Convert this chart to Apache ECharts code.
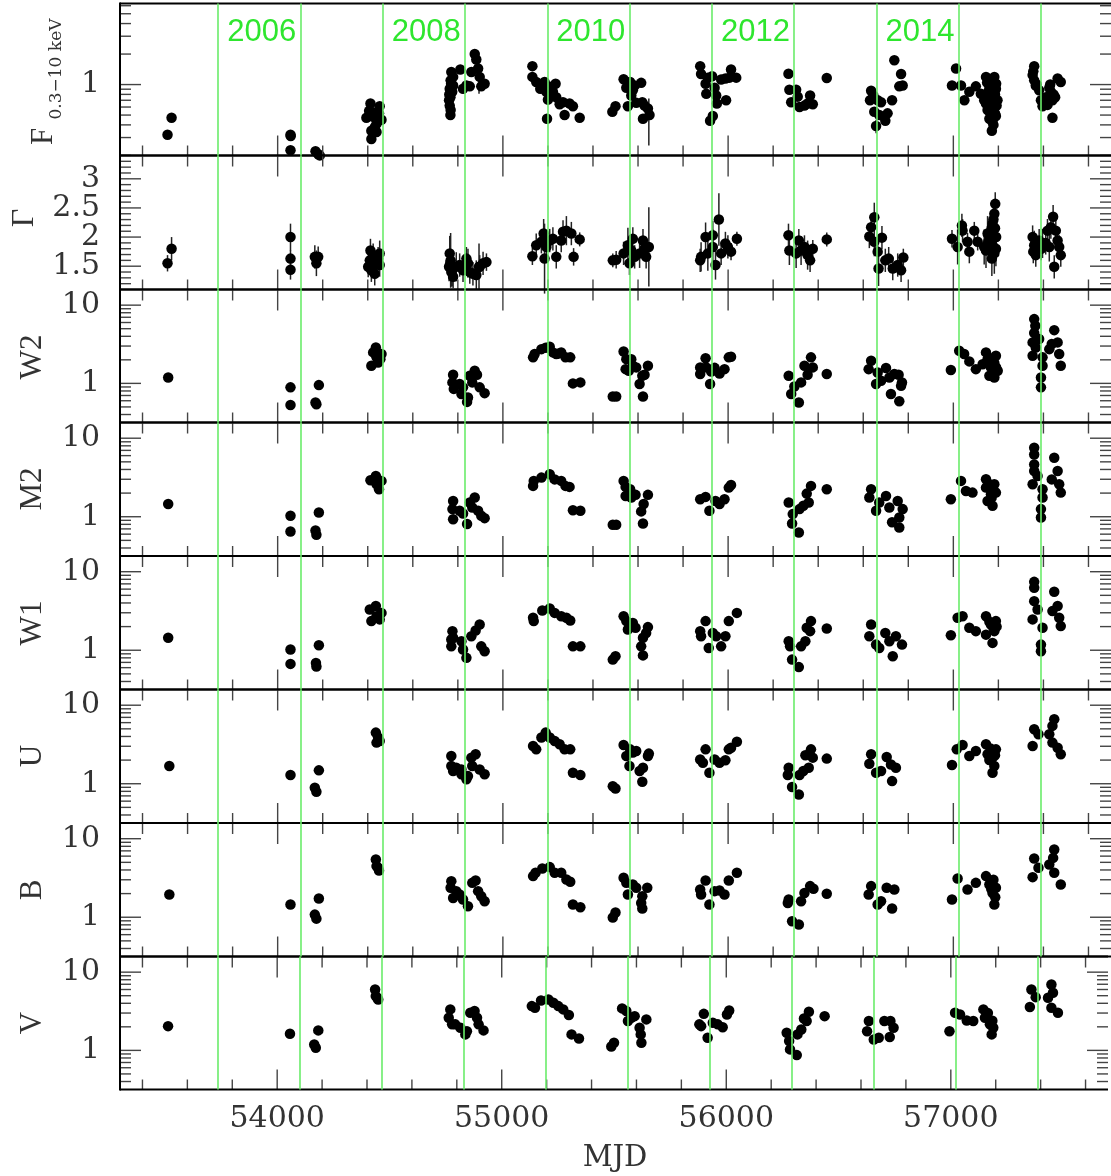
<!DOCTYPE html>
<html>
<head>
<meta charset="utf-8">
<script src="https://cdn.jsdelivr.net/npm/echarts@6/dist/echarts.min.js"></script>
<style>
  html, body { margin: 0; background: #fff; }
  #chart { width: 1111px; height: 1176px; }
</style>
</head>
<body>
<div id="chart"></div>
<script>
// 8단 광도곡선 — X선 플럭스, 광자지수, UVOT 6밴드 (MJD 축 공유)
const xMin = 53300, xMax = 57700;
const xMajorTicks = [54000, 55000, 56000, 57000];
const xMinorTicks = [53400, 53600, 53800, 54200, 54400, 54600, 54800, 55200, 55400, 55600, 55800,
  56200, 56400, 56600, 56800, 57200, 57400, 57600];

const yearStarts = [53736, 54101, 54466, 54832, 55197, 55562, 55927, 56293, 56658, 57023, 57388];
const yearTexts = ["2006", "2008", "2010", "2012", "2014"];
const yearTextMJD = [53929, 54660, 55390, 56122, 56852];

const logMajorF = [1];
const logMinorF = [0.2, 0.3, 0.4, 0.5, 0.6, 0.7, 0.8, 0.9, 2, 3, 4, 5, 6];
const logMajorUV = [1, 10];
const logMinorUV = [0.4, 0.5, 0.6, 0.7, 0.8, 0.9, 2, 3, 4, 5, 6, 7, 8, 9];
const gammaMajor = [1.5, 2, 2.5, 3];
const gammaMinor = [1.2, 1.3, 1.4, 1.6, 1.7, 1.8, 1.9, 2.1, 2.2, 2.3, 2.4, 2.6, 2.7, 2.8, 2.9, 3.1, 3.2, 3.3];

// F(0.3-10 keV) [MJD, flux]
const fluxX = [
  [53511,0.32],[53529,0.47],[54057,0.32],[54058,0.31],[54057,0.225],[54168,0.22],[54180,0.205],[54187,0.20],
  [54412,0.65],[54453,0.61],[54394,0.47],[54424,0.48],[54446,0.44],[54461,0.45],[54431,0.38],[54416,0.35],
  [54439,0.34],[54416,0.29],[54406,0.55],[54427,0.53],[54450,0.52],[54439,0.41],
  [54771,1.33],[54768,1.10],[54764,0.91],[54767,0.75],[54764,0.62],[54768,0.56],[54767,0.50],[54779,1.19],
  [54779,0.98],[54761,0.70],[54775,0.85],[54762,0.80],[54770,1.02],
  [54811,1.41],[54823,0.91],[54838,0.98],[54853,0.96],[54860,1.33],[54875,2.0],[54882,1.77],[54890,1.44],
  [54897,1.19],[54904,0.96],[54919,1.02],
  [55131,1.52],[55131,1.19],[55148,1.06],[55166,0.91],[55185,1.06],[55193,0.85],[55200,0.71],[55208,0.95],
  [55222,0.85],[55234,1.02],[55237,0.75],[55252,0.64],[55267,0.67],[55274,0.50],[55296,0.65],[55311,0.61],
  [55341,0.47],[55196,0.46],
  [55486,0.54],[55500,0.61],[55536,1.13],[55548,0.93],[55555,1.04],[55565,1.06],[55570,0.78],[55577,0.88],
  [55585,0.98],[55555,0.61],[55592,0.66],[55614,1.04],[55619,0.67],[55629,0.62],[55644,0.58],[55651,0.50],[55622,0.46],
  [55876,1.52],[55880,1.27],[55900,1.02],[55903,0.81],[55910,1.17],[55929,1.21],[55940,0.93],[55947,0.78],
  [55950,0.65],[55932,0.49],[55920,0.44],[55969,1.12],[55988,1.15],[55991,0.70],[56006,1.17],[56013,1.41],[56036,1.17],
  [56268,1.28],[56272,0.89],[56280,0.67],[56302,0.89],[56309,0.76],[56317,0.60],[56339,0.62],[56353,0.65],
  [56364,0.78],[56376,0.64],[56438,1.16],
  [56635,0.87],[56630,0.70],[56645,0.78],[56664,0.70],[56679,0.67],[56649,0.54],[56671,0.50],[56698,0.44],
  [56657,0.39],[56708,0.52],[56728,0.70],[56738,1.74],[56768,1.27],[56760,0.96],[56775,0.98],
  [57012,1.44],[56994,0.98],[57034,0.98],[57049,0.70],[57071,0.85],[57100,0.96],[57122,0.81],
  [57145,1.19],[57182,1.19],[57160,0.95],[57189,0.91],[57137,0.70],[57167,0.75],[57196,0.70],[57152,0.56],
  [57182,0.60],[57160,0.46],[57174,0.43],[57171,0.35],[57189,0.49],[57150,1.05],[57165,1.10],[57178,1.05],
  [57190,1.02],[57155,0.85],[57170,0.88],[57185,0.80],[57145,0.65],[57175,0.62],[57165,0.52],[57185,0.52],
  [57178,0.40],[57192,0.62],[57160,0.78],
  [57359,1.52],[57352,1.24],[57359,1.10],[57366,0.98],[57381,0.88],[57389,0.70],[57396,0.61],[57411,0.75],
  [57426,0.93],[57433,0.85],[57440,0.70],[57452,0.75],[57463,1.15],[57477,1.06],[57440,0.47],[57418,0.63],
  [57355,1.35],[57370,1.00],[57430,1.00],[57445,0.80]
];
// [MJD, low, high]
const fluxErr = [[55648,0.25,0.73],[54894,0.81,1.44],[56657,0.33,0.45],[57012,1.30,1.60],[54764,0.45,0.55]];

// Gamma [MJD, value, error]
const gammaX = [
  [53511,1.55,0.14],[53529,1.80,0.2],[54057,2.0,0.23],[54057,1.63,0.15],[54057,1.44,0.17],[54165,1.66,0.2],
  [54180,1.66,0.18],[54172,1.55,0.22],
  [54412,1.77,0.2],[54424,1.69,0.2],[54453,1.72,0.22],[54402,1.49,0.18],[54416,1.43,0.2],[54439,1.55,0.2],
  [54453,1.52,0.2],[54431,1.37,0.2],[54446,1.63,0.2],[54409,1.60,0.2],
  [54764,1.72,0.3],[54768,1.60,0.47],[54761,1.49,0.25],[54771,1.40,0.25],[54779,1.32,0.2],[54793,1.49,0.25],
  [54808,1.52,0.2],[54823,1.43,0.2],[54838,1.63,0.2],[54845,1.55,0.25],[54853,1.40,0.2],[54867,1.37,0.2],
  [54882,1.35,0.25],[54897,1.49,0.2],[54912,1.55,0.2],[54927,1.57,0.15],[54766,1.55,0.3],[54775,1.45,0.3],[54894,1.49,0.4],
  [55131,1.67,0.15],[55148,1.86,0.2],[55171,1.92,0.2],[55181,2.06,0.25],[55193,1.83,0.25],[55185,1.63,0.6],
  [55208,1.94,0.2],[55222,1.97,0.2],[55237,1.66,0.2],[55259,1.94,0.2],[55267,2.09,0.2],[55282,2.11,0.25],
  [55304,2.06,0.2],[55314,1.66,0.15],[55341,1.96,0.12],
  [55488,1.60,0.12],[55503,1.61,0.15],[55536,1.72,0.2],[55555,1.86,0.3],[55570,1.77,0.2],[55577,1.97,0.2],
  [55585,1.66,0.2],[55562,1.55,0.2],[55607,1.72,0.25],[55622,1.94,0.2],[55629,1.80,0.2],[55636,1.66,0.2],[55648,1.83,0.68],
  [55876,1.60,0.2],[55880,1.66,0.25],[55900,2.0,0.25],[55910,1.72,0.3],[55932,2.03,0.25],[55932,1.83,0.3],
  [55944,1.52,0.25],[55959,2.30,0.45],[55969,1.72,0.2],[55988,1.89,0.2],[55999,1.83,0.2],[56013,1.75,0.15],[56039,1.97,0.12],
  [56268,2.03,0.2],[56272,1.77,0.25],[56302,1.72,0.25],[56314,1.94,0.2],[56324,1.77,0.25],[56339,1.83,0.2],
  [56353,1.69,0.25],[56364,1.60,0.2],[56376,1.80,0.15],[56438,1.96,0.12],
  [56649,2.34,0.25],[56635,2.17,0.2],[56627,2.01,0.2],[56649,1.92,0.25],[56664,1.75,0.2],[56683,1.99,0.2],
  [56668,1.46,0.3],[56698,1.60,0.2],[56713,1.63,0.2],[56731,1.46,0.2],[56753,1.52,0.2],[56768,1.43,0.2],[56778,1.65,0.15],
  [56994,1.97,0.15],[57019,1.83,0.3],[57038,2.20,0.2],[57041,2.11,0.2],[57063,1.92,0.15],[57071,1.75,0.2],
  [57093,2.11,0.15],[57108,1.92,0.15],
  [57186,2.57,0.2],[57182,2.40,0.2],[57174,2.23,0.25],[57167,2.06,0.3],[57160,1.89,0.3],[57145,1.77,0.3],
  [57152,2.06,0.3],[57189,1.80,0.3],[57171,1.63,0.3],[57137,1.83,0.3],[57178,2.30,0.2],[57185,2.15,0.25],
  [57165,1.95,0.3],[57175,1.85,0.3],[57155,1.92,0.3],[57182,1.72,0.35],[57170,2.15,0.3],[57190,2.00,0.25],
  [57352,2.0,0.2],[57359,1.86,0.25],[57366,1.69,0.2],[57381,1.94,0.2],[57396,1.89,0.25],[57418,2.11,0.2],
  [57433,2.17,0.2],[57443,2.35,0.2],[57455,2.11,0.2],[57463,1.94,0.2],[57470,1.83,0.2],[57477,1.69,0.2],
  [57448,1.49,0.2],[57426,1.83,0.25],[57355,1.75,0.2],[57390,1.80,0.2],[57410,1.90,0.2]
];

const w2Flux = [
  [53514,1.19],[54057,0.89],[54057,0.53],[54183,0.95],[54168,0.57],[54172,0.54],
  [54436,2.88],[54424,2.49],[54461,2.37],[54416,1.68],[54446,1.85],[54439,2.15],[54456,2.04],
  [54779,1.29],[54776,1.03],[54782,0.85],[54808,0.98],[54823,0.89],[54816,0.73],[54845,0.66],[54841,0.58],
  [54853,1.25],[54875,1.45],[54864,1.03],[54885,1.29],[54897,0.89],[54919,0.75],
  [55134,2.15],[55141,2.37],[55171,2.74],[55208,2.94],[55222,2.49],[55259,2.49],[55278,2.15],[55299,2.15],
  [55237,2.37],[55311,1.00],[55344,1.03],[55190,2.85],[55245,2.40],
  [55488,0.68],[55503,0.68],[55536,2.56],[55545,1.52],[55548,2.04],[55559,1.45],[55570,2.04],[55577,1.68],
  [55592,1.60],[55607,0.98],[55619,1.25],[55622,0.68],[55629,1.29],[55644,1.68],
  [55900,2.10],[55876,1.60],[55876,1.32],[55903,1.60],[55925,1.42],[55920,0.98],[55940,1.58],[55962,1.34],
  [55984,1.52],[56003,2.15],[56013,2.19],
  [56269,1.25],[56294,0.91],[56280,0.73],[56314,0.57],[56324,1.03],[56353,1.29],[56339,1.68],[56376,1.60],
  [56368,2.15],[56438,1.32],
  [56635,1.95],[56624,1.52],[56664,1.38],[56657,0.98],[56679,1.08],[56701,1.57],[56716,1.19],[56738,1.32],
  [56757,1.29],[56772,1.03],[56768,0.93],[56723,0.73],[56760,0.59],
  [56989,1.48],[57026,2.61],[57048,2.37],[57071,1.91],[57100,1.52],[57130,1.76],[57145,2.49],[57152,2.04],
  [57167,1.60],[57182,1.82],[57189,2.25],[57160,1.25],[57182,1.19],[57197,1.45],[57175,2.10],[57158,1.90],[57190,1.60],
  [57359,6.63],[57364,5.44],[57359,4.40],[57352,3.34],[57366,2.88],[57352,2.25],[57381,3.69],[57396,2.15],
  [57396,1.68],[57389,1.19],[57389,0.89],[57448,4.79],[57437,3.18],[57463,3.34],[57470,2.37],[57477,1.68],[57426,2.74]
];

const m2Flux = [
  [53514,1.45],[54057,1.03],[54057,0.65],[54183,1.13],[54168,0.67],[54172,0.59],
  [54436,3.30],[54412,2.91],[54461,2.86],[54450,2.24],[54439,2.59],
  [54779,1.59],[54776,1.25],[54779,0.93],[54808,1.19],[54823,1.10],[54841,0.81],[54853,1.52],[54875,1.76],
  [54864,1.31],[54890,1.19],[54904,1.03],[54919,0.96],
  [55134,2.47],[55137,2.86],[55171,3.15],[55208,3.47],[55230,2.99],[55259,2.86],[55278,2.47],[55296,2.40],
  [55311,1.21],[55344,1.19],
  [55488,0.79],[55503,0.79],[55536,2.86],[55545,2.40],[55565,2.24],[55545,1.84],[55570,1.76],[55589,1.90],
  [55644,1.90],[55625,1.45],[55614,1.17],[55622,0.82],
  [55876,1.67],[55900,1.79],[55917,1.19],[55944,1.59],[55962,1.45],[55984,1.67],[56003,2.35],[56013,2.54],
  [56269,1.52],[56287,1.08],[56284,0.82],[56314,0.63],[56317,1.25],[56334,1.38],[56358,1.52],[56349,1.97],
  [56368,2.47],[56438,2.24],
  [56635,2.24],[56627,1.76],[56657,1.19],[56671,1.52],[56701,1.84],[56716,1.31],[56753,1.59],[56775,1.25],
  [56760,0.98],[56728,0.85],[56760,0.73],
  [56989,1.67],[57034,2.86],[57056,2.13],[57085,2.03],[57145,3.00],[57145,2.35],[57167,1.94],[57182,2.59],
  [57189,2.03],[57174,1.38],[57152,1.59],[57160,2.60],[57178,2.20],[57170,1.75],
  [57359,7.54],[57359,6.20],[57359,4.64],[57359,3.82],[57352,2.59],[57374,3.30],[57396,2.24],[57396,1.76],
  [57389,1.25],[57389,0.98],[57448,5.63],[57463,3.82],[57437,2.99],[57470,2.59],[57477,2.03]
];

const w1Flux = [
  [53514,1.44],[54057,1.02],[54057,0.67],[54183,1.16],[54170,0.69],[54172,0.62],
  [54436,3.65],[54409,3.30],[54461,2.99],[54416,2.35],[54453,2.47],[54439,2.71],
  [54776,1.75],[54771,1.37],[54771,1.12],[54779,1.44],[54816,1.30],[54823,1.02],[54838,0.80],[54860,1.51],
  [54879,1.78],[54897,2.13],[54904,1.12],[54919,0.97],
  [55134,2.59],[55137,2.35],[55175,3.21],[55208,3.40],[55230,2.99],[55259,2.71],[55282,2.59],[55299,2.39],
  [55311,1.12],[55344,1.12],
  [55488,0.76],[55500,0.84],[55536,2.71],[55548,2.35],[55577,2.23],[55555,1.84],[55589,1.93],[55644,1.97],
  [55636,1.66],[55622,1.44],[55614,1.12],[55622,0.86],
  [55900,2.35],[55876,1.75],[55880,1.51],[55914,1.07],[55932,1.66],[55947,1.51],[55969,1.12],[55988,1.51],
  [56003,2.35],[56039,2.99],
  [56269,1.30],[56275,1.12],[56284,0.76],[56314,0.61],[56324,1.12],[56343,1.30],[56364,1.75],[56349,1.93],
  [56368,2.35],[56438,1.89],
  [56635,2.13],[56627,1.51],[56657,1.18],[56671,1.07],[56698,1.66],[56716,1.30],[56745,1.51],[56772,1.18],[56731,0.84],
  [56989,1.55],[57019,2.59],[57041,2.71],[57071,1.93],[57100,1.75],[57145,2.71],[57167,2.13],[57145,1.58],
  [57182,1.75],[57189,2.35],[57174,1.24],[57160,2.30],[57178,1.95],[57192,2.00],
  [57359,7.43],[57359,6.24],[57359,4.22],[57352,2.47],[57374,3.30],[57396,1.93],[57389,1.18],[57389,0.97],
  [57448,5.55],[57463,3.65],[57440,3.15],[57470,2.59],[57477,2.03]
];

const uFlux = [
  [53519,1.68],[54057,1.29],[54183,1.48],[54165,0.89],[54172,0.79],
  [54436,4.48],[54446,3.87],[54439,3.34],[54453,3.50],
  [54771,2.25],[54771,1.68],[54779,1.45],[54793,1.60],[54816,1.52],[54816,1.32],[54838,1.14],[54845,1.25],
  [54860,2.15],[54879,2.37],[54864,1.68],[54897,1.52],[54919,1.32],
  [55134,3.02],[55148,2.74],[55171,3.87],[55190,4.48],[55208,3.87],[55230,3.50],[55252,3.18],[55274,2.74],
  [55299,2.74],[55311,1.38],[55344,1.29],
  [55488,0.93],[55500,0.87],[55536,3.11],[55548,2.25],[55565,2.74],[55577,2.49],[55592,2.61],[55562,1.68],
  [55644,2.25],[55648,2.42],[55622,1.60],[55619,1.06],[55607,1.45],
  [55900,2.74],[55876,2.04],[55888,1.85],[55917,1.38],[55940,2.04],[55962,1.85],[55988,1.99],[56003,2.74],
  [56039,3.42],[56013,2.87],
  [56269,1.60],[56265,1.29],[56284,0.91],[56314,0.73],[56317,1.29],[56334,1.45],[56358,1.60],[56343,2.31],
  [56368,2.74],[56376,2.15],[56438,2.09],
  [56635,2.37],[56627,1.80],[56657,1.38],[56679,1.45],[56704,2.19],[56723,1.76],[56745,1.60],[56728,1.08],
  [56994,1.73],[57015,2.74],[57041,3.11],[57071,2.25],[57100,2.61],[57145,3.18],[57152,2.37],[57174,2.15],
  [57182,1.68],[57174,1.38],[57189,2.74],[57165,2.80],[57185,2.30],[57160,2.00],
  [57352,3.02],[57359,4.94],[57378,4.26],[57448,6.62],[57440,5.45],[57426,4.26],[57440,3.34],[57463,2.87],[57477,2.37]
];

const bFlux = [
  [53519,1.95],[54057,1.45],[54183,1.73],[54165,1.08],[54172,0.96],
  [54436,5.45],[54439,4.48],[54450,3.94],[54446,4.26],
  [54771,2.88],[54768,2.37],[54779,1.76],[54793,2.15],[54808,1.95],[54823,1.68],[54845,1.38],[54864,2.74],
  [54879,2.93],[54890,2.15],[54904,1.85],[54919,1.60],
  [55134,3.34],[55145,3.68],[55175,4.18],[55208,4.35],[55230,3.68],[55259,3.68],[55282,3.02],[55299,2.83],
  [55311,1.45],[55344,1.34],
  [55488,0.99],[55500,1.15],[55536,3.18],[55548,2.74],[55577,2.61],[55555,1.95],[55592,2.37],[55619,1.85],
  [55641,2.37],[55614,1.52],[55619,1.29],
  [55900,2.93],[55876,2.25],[55880,1.95],[55917,1.45],[55940,2.15],[55962,2.19],[55984,1.95],[56003,2.93],[56039,3.68],
  [56269,1.68],[56265,1.52],[56284,0.89],[56314,0.81],[56324,1.60],[56339,2.04],[56364,2.49],[56379,2.31],[56438,1.99],
  [56635,2.49],[56624,1.95],[56664,1.45],[56679,1.60],[56704,2.37],[56738,2.25],[56728,1.29],
  [56994,1.68],[57019,3.11],[57063,2.25],[57100,2.74],[57145,3.34],[57160,2.61],[57174,2.04],[57182,1.45],
  [57189,2.37],[57178,3.00],[57168,2.30],[57186,1.80],
  [57352,3.24],[57359,5.60],[57378,4.26],[57448,7.30],[57443,5.70],[57426,4.70],[57448,3.68],[57477,2.61]
];

const vFlux = [
  [53514,2.04],[54057,1.63],[54183,1.80],[54165,1.19],[54172,1.08],
  [54436,6.00],[54439,4.94],[54450,4.48],[54446,4.70],
  [54771,3.34],[54764,2.61],[54779,2.15],[54793,2.15],[54816,1.95],[54838,1.60],[54845,1.76],[54860,3.02],
  [54879,3.18],[54890,2.61],[54897,2.15],[54919,1.80],
  [55134,3.68],[55148,3.50],[55175,4.35],[55208,4.48],[55230,4.06],[55252,3.68],[55274,3.34],[55299,2.83],
  [55311,1.60],[55344,1.42],
  [55488,1.12],[55500,1.25],[55536,3.44],[55555,3.18],[55577,2.61],[55562,2.37],[55592,2.74],[55644,2.49],
  [55614,1.95],[55619,1.60],[55622,1.25],
  [55900,2.93],[55880,2.15],[55888,2.04],[55917,1.45],[55940,2.25],[55962,2.15],[55984,1.98],[56003,2.88],[56013,3.24],
  [56269,1.68],[56280,1.32],[56284,1.03],[56314,0.87],[56317,1.60],[56334,1.85],[56358,2.37],[56346,2.56],
  [56368,3.11],[56438,2.74],
  [56635,2.37],[56627,1.76],[56657,1.38],[56679,1.45],[56704,2.37],[56731,2.37],[56745,1.95],[56728,1.48],
  [56994,1.76],[57019,3.02],[57041,2.88],[57071,2.41],[57100,2.37],[57145,3.34],[57152,2.61],[57174,2.15],
  [57182,1.60],[57189,1.95],[57165,3.00],[57185,2.40],
  [57359,6.00],[57352,3.58],[57378,4.79],[57448,6.96],[57455,5.45],[57433,4.70],[57448,3.50],[57477,3.02]
];

// 레이아웃
const GRID_LEFT = 120, GRID_WIDTH = 992;
const panelTops = [3.5, 155.5, 289.5, 422.5, 556, 689.5, 823, 956.5];
const panelBottom = 1089.5;
const NUM_FONT = "DejaVu Serif";
const TXT_COLOR = "#333";
const TICK_COLOR = "#444";
const LINE_GREEN = "#6aec6a";
const TEXT_GREEN = "#2ee62e";

const panels = [
  { data: fluxX, log: true, min: 0.1995, max: 6.31, major: logMajorF, minor: logMinorF },
  { data: gammaX, log: false, min: 1.1, max: 3.4, major: gammaMajor, minor: gammaMinor },
  { data: w2Flux, log: true, min: 0.3162, max: 15.85, major: logMajorUV, minor: logMinorUV },
  { data: m2Flux, log: true, min: 0.3162, max: 15.85, major: logMajorUV, minor: logMinorUV },
  { data: w1Flux, log: true, min: 0.3162, max: 15.85, major: logMajorUV, minor: logMinorUV },
  { data: uFlux, log: true, min: 0.3162, max: 15.85, major: logMajorUV, minor: logMinorUV },
  { data: bFlux, log: true, min: 0.3162, max: 15.85, major: logMajorUV, minor: logMinorUV },
  { data: vFlux, log: true, min: 0.3162, max: 15.85, major: logMajorUV, minor: logMinorUV },
];

const chart = echarts.init(document.getElementById("chart"), null, { renderer: "canvas" });

const grids = [], xAxes = [], yAxes = [], series = [];

panels.forEach((p, i) => {
  const top = panelTops[i];
  const bottom = i < 7 ? panelTops[i + 1] : panelBottom;
  grids.push({ left: GRID_LEFT, width: GRID_WIDTH, top, height: bottom - top, show: false });
  xAxes.push({
    type: "value", gridIndex: i, min: xMin, max: xMax,
    axisLine: { show: false }, axisTick: { show: false }, splitLine: { show: false },
    axisLabel: i === 7
      ? {
          show: true, margin: 15, color: TXT_COLOR, fontFamily: NUM_FONT, fontSize: 30,
          formatter: (v) => (v % 1000 === 0 ? String(v) : ""),
        }
      : { show: false },
  });
  yAxes.push({
    type: p.log ? "log" : "value", logBase: 10, gridIndex: i, min: p.min, max: p.max,
    axisLine: { show: false }, axisTick: { show: false }, splitLine: { show: false },
    axisLabel: {
      margin: 20, color: TXT_COLOR, fontFamily: NUM_FONT, fontSize: 30,
      formatter: (v) => {
        const hit = p.major.find((m) => Math.abs(m - v) < 1e-6 * Math.max(1, m));
        return hit !== undefined ? String(hit) : "";
      },
    },
  });

  // 테두리(왼/위/아래) + 눈금 (안쪽 방향), 오른쪽 테두리는 화면 밖
  series.push({
    type: "custom", xAxisIndex: i, yAxisIndex: i, silent: true, clip: false, z: 4,
    data: [[xMin, p.min]],
    renderItem: (params, api) => {
      const lt = api.coord([xMin, p.max]);
      const rb = api.coord([xMax, p.min]);
      const L = lt[0], T = lt[1], R = rb[0], B = rb[1];
      const kids = [];
      const seg = (x1, y1, x2, y2, c, w) => kids.push({
        type: "line", shape: { x1, y1, x2, y2 }, style: { stroke: c || TICK_COLOR, lineWidth: w || 1.4 },
      });
      p.major.forEach((v) => { const y = api.coord([xMin, v])[1]; seg(L, y, L + 21, y); seg(R, y, R - 21, y); });
      p.minor.forEach((v) => { const y = api.coord([xMin, v])[1]; seg(L, y, L + 11, y); seg(R, y, R - 11, y); });
      xMajorTicks.forEach((x) => {
        const px = api.coord([x, p.min])[0];
        seg(px, B, px, B - 20);
        if (i > 0) seg(px, T, px, T + 21);
      });
      xMinorTicks.forEach((x) => {
        const px = api.coord([x, p.min])[0];
        seg(px, B, px, B - 10);
        if (i > 0) seg(px, T, px, T + 11);
      });
      seg(L, T, R, T, "#000", 2);
      seg(L, B, R, B, "#000", 2);
      seg(L, T - 1, L, B + 1, "#000", 2);
      return { type: "group", children: kids };
    },
  });

  // 오차막대
  if (i === 1) {
    series.push({
      type: "custom", xAxisIndex: i, yAxisIndex: i, silent: true, z: 2,
      data: gammaX, encode: { x: 0, y: 1 },
      renderItem: (params, api) => {
        const x = api.value(0), y = api.value(1), e = api.value(2);
        const a = api.coord([x, y + e]), b = api.coord([x, y - e]);
        return { type: "line", shape: { x1: a[0], y1: a[1], x2: b[0], y2: b[1] }, style: { stroke: "#222", lineWidth: 1.5 } };
      },
    });
  }
  if (i === 0) {
    series.push({
      type: "custom", xAxisIndex: i, yAxisIndex: i, silent: true, z: 2,
      data: fluxErr, encode: { x: 0, y: 1 },
      renderItem: (params, api) => {
        const x = api.value(0);
        const a = api.coord([x, api.value(2)]), b = api.coord([x, api.value(1)]);
        return { type: "line", shape: { x1: a[0], y1: a[1], x2: b[0], y2: b[1] }, style: { stroke: "#222", lineWidth: 1.5 } };
      },
    });
  }

  series.push({
    type: "scatter", xAxisIndex: i, yAxisIndex: i, z: 3,
    data: p.data.map((d) => [d[0], d[1]]),
    symbol: "circle", symbolSize: 10.5,
    itemStyle: { color: "#000", opacity: 1 },
    markLine: {
      silent: true, symbol: ["none", "none"], animation: false,
      label: { show: false },
      lineStyle: { color: LINE_GREEN, width: 1.6, type: "solid", opacity: 1 },
      emphasis: { disabled: true },
      data: yearStarts.map((m) => ({ xAxis: m })),
    },
  });
});

// 연도 표시
series.push({
  type: "custom", xAxisIndex: 0, yAxisIndex: 0, silent: true, clip: false, z: 5,
  data: yearTextMJD.map((m, k) => [m, 1, k]),
  renderItem: (params, api) => {
    const px = api.coord([api.value(0), 1])[0];
    const top = api.coord([xMin, panels[0].max])[1];
    return {
      type: "text", x: px, y: top + 29,
      style: {
        text: yearTexts[api.value(2)], fill: TEXT_GREEN,
        font: "31px 'Liberation Sans'", align: "center", verticalAlign: "middle",
      },
    };
  },
});

const rot = Math.PI / 2;
const title = (text, x, y, font) => ({
  type: "text", x, y, rotation: rot,
  style: { text, font, fill: TXT_COLOR, align: "center", verticalAlign: "middle" },
});

chart.setOption({
  animation: false,
  backgroundColor: "#fff",
  grid: grids,
  xAxis: xAxes,
  yAxis: yAxes,
  series,
  graphic: [
    title("F", 44, 136.5, "31px 'Liberation Serif'"),
    title("0.3\u221210 keV", 57, 69, "17px 'DejaVu Serif'"),
    title("\u0393", 25, 218, "32px 'Liberation Serif'"),
    title("W2", 33, 357, "31px 'Liberation Serif'"),
    title("M2", 33, 489, "31px 'Liberation Serif'"),
    title("W1", 33, 623, "31px 'Liberation Serif'"),
    title("U", 33, 756, "31px 'Liberation Serif'"),
    title("B", 33, 890, "31px 'Liberation Serif'"),
    title("V", 33, 1023, "31px 'Liberation Serif'"),
    {
      type: "text", x: 615, y: 1158,
      style: { text: "MJD", font: "29px 'DejaVu Serif'", fill: TXT_COLOR, align: "center", verticalAlign: "middle" },
    },
  ],
});
</script>
</body>
</html>
